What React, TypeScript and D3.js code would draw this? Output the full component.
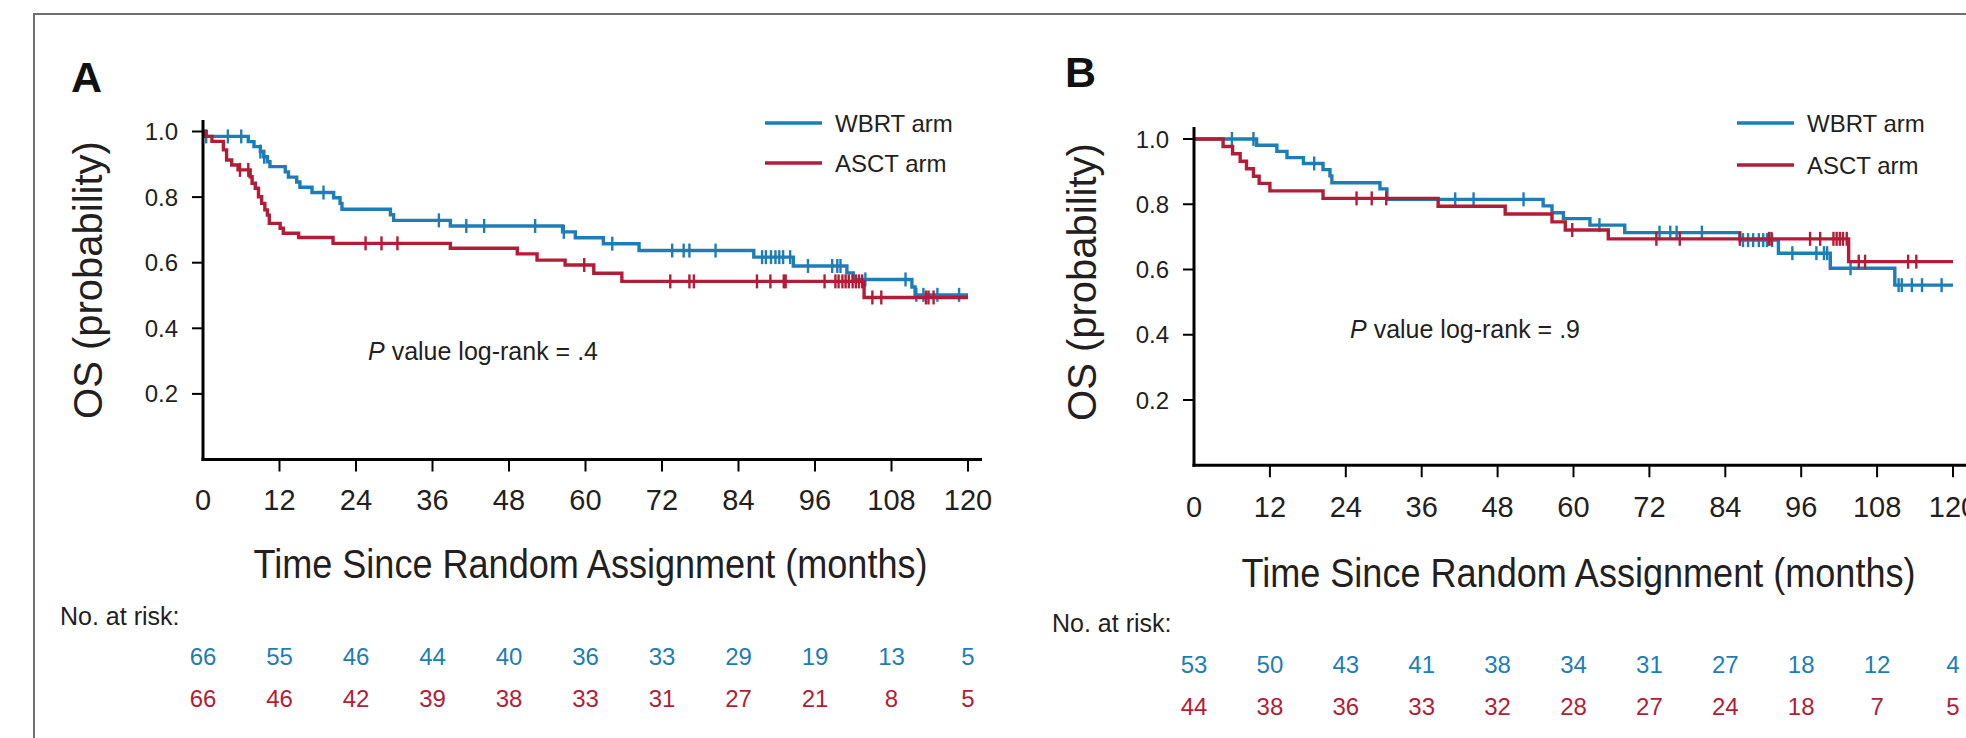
import * as d3 from 'd3'

const BLUE = '#1d7db6'
const RED = '#b31c37'
const INK = '#231f20'
const SANS = '"Liberation Sans", Arial, Helvetica, sans-serif'
const NARROW = '"Liberation Sans Narrow", "Liberation Sans", Arial, sans-serif'

// axes
const monthTicks = [0, 12, 24, 36, 48, 60, 72, 84, 96, 108, 120]
const survTicks = [0.2, 0.4, 0.6, 0.8, 1.0]
const legendLabels = ['WBRT arm', 'ASCT arm']
const followUpEnd = 120

// Panel A: step changes [month, survival] and censor times
const aWbrtSteps: [number, number][] = [
  [0, 1], [0.3, 0.985], [7.1, 0.969], [8.0, 0.954], [9.0, 0.939], [9.5, 0.923],
  [10.1, 0.908], [10.5, 0.893], [12.9, 0.877], [13.4, 0.861], [14.7, 0.846],
  [15.2, 0.83], [17.1, 0.814], [20.5, 0.798], [21.5, 0.781], [21.8, 0.763],
  [29.4, 0.746], [29.9, 0.729], [38.8, 0.712], [56.4, 0.694], [58.4, 0.676],
  [62.8, 0.658], [68.4, 0.637], [86.4, 0.617], [92.6, 0.59], [101.0, 0.569],
  [102.0, 0.549], [111.2, 0.526], [111.7, 0.502],
]
const aWbrtCensor = [
  0.5, 3.9, 6.0, 9.0, 9.6, 18.9, 37.0, 41.3, 44.1, 52.1, 56.6, 64.2, 73.6, 75.4,
  76.3, 80.4, 87.7, 88.3, 89.1, 89.8, 90.4, 91.0, 92.1, 94.9, 98.7, 99.5, 100.0,
  103.9, 110.2, 111.9, 113.0, 115.2, 118.6,
]
const aAsctSteps: [number, number][] = [
  [0, 1], [0.5, 0.985], [1.4, 0.97], [3.2, 0.944], [3.7, 0.913], [4.5, 0.898],
  [5.5, 0.883], [7.4, 0.862], [7.7, 0.842], [8.2, 0.827], [8.7, 0.801],
  [9.2, 0.781], [9.7, 0.761], [10.1, 0.745], [10.4, 0.72], [12.1, 0.705],
  [12.6, 0.69], [15.0, 0.677], [20.4, 0.659], [38.8, 0.644], [49.3, 0.627],
  [52.4, 0.608], [56.8, 0.593], [61.3, 0.568], [65.7, 0.543], [103.7, 0.494],
]
const aAsctCensor = [
  5.8, 7.1, 25.5, 28.0, 30.5, 59.8, 73.3, 76.3, 77.0, 86.9, 89.0, 91.1, 91.4,
  97.5, 99.2, 99.7, 100.3, 100.8, 101.3, 101.9, 102.4, 102.9, 103.4, 105.0,
  106.4, 113.4, 113.8, 114.6,
]
const aWbrtRisk = [66, 55, 46, 44, 40, 36, 33, 29, 19, 13, 5]
const aAsctRisk = [66, 46, 42, 39, 38, 33, 31, 27, 21, 8, 5]

// Panel B
const bWbrtSteps: [number, number][] = [
  [0, 1], [9.9, 0.981], [13.1, 0.962], [14.7, 0.943], [17.3, 0.925], [20.4, 0.906],
  [21.5, 0.887], [21.8, 0.866], [29.4, 0.847], [30.5, 0.815], [55.2, 0.795],
  [56.6, 0.774], [58.4, 0.756], [62.6, 0.736], [68.1, 0.713], [86.3, 0.69],
  [92.4, 0.65], [100.6, 0.604], [110.8, 0.552],
]
const bWbrtCensor = [
  6.0, 9.4, 19.0, 41.3, 44.2, 52.1, 64.1, 73.6, 75.3, 76.3, 80.3, 86.8, 87.6,
  88.4, 89.3, 90.0, 90.6, 91.4, 94.6, 98.4, 99.6, 100.1, 103.8, 111.4, 111.9,
  113.5, 115.1, 118.2,
]
const bAsctSteps: [number, number][] = [
  [0, 1], [4.6, 0.977], [6.1, 0.955], [7.3, 0.932], [8.3, 0.909], [9.4, 0.886],
  [10.3, 0.864], [12.0, 0.841], [20.4, 0.818], [38.6, 0.794], [49.2, 0.77],
  [56.6, 0.746], [58.7, 0.721], [65.5, 0.694], [103.5, 0.624],
]
const bAsctCensor = [
  25.7, 28.1, 30.4, 59.8, 73.1, 76.8, 86.3, 90.9, 91.3, 97.4, 99.0, 101.1, 101.6,
  102.1, 102.6, 103.2, 105.1, 106.1, 112.9, 114.2,
]
const bWbrtRisk = [53, 50, 43, 41, 38, 34, 31, 27, 18, 12, 4]
const bAsctRisk = [44, 38, 36, 33, 32, 28, 27, 24, 18, 7, 5]

type Arm = { steps: [number, number][]; censor: number[]; risk: number[]; color: string }

type Layout = {
  letter: string
  pValue: string
  xRange: [number, number]
  yRange: [number, number]
  yAxisTop: number
  xAxisRight: number
  letterPos: [number, number]
  legend: [number, number, number]
  pPos: [number, number]
  yTitle: [number, number]
  xTitleY: number
  tickLabelY: number
  riskHead: [number, number]
  riskY: [number, number]
}

function survAt(steps: [number, number][], t: number) {
  let s = steps[0][1]
  for (const [ts, v] of steps) if (ts <= t) s = v
  return s
}

function Panel({ L, arms }: { L: Layout; arms: Arm[] }) {
  const x = d3.scaleLinear().domain([0, 120]).range(L.xRange)
  const y = d3.scaleLinear().domain([0, 1]).range(L.yRange)
  const line = d3.line<[number, number]>()
    .x(d => x(d[0]))
    .y(d => y(d[1]))
    .curve(d3.curveStepAfter)
  const x0 = x(0)
  const yBase = y(0)
  const xMid = (L.xRange[0] + L.xRange[1]) / 2 + 5

  return (
    <g>
      <text x={L.letterPos[0]} y={L.letterPos[1]} fontFamily={SANS} fontWeight="bold"
        fontSize={43} fill="#111">{L.letter}</text>

      {/* curves */}
      {arms.map((a, i) => {
        const pts = [...a.steps, [followUpEnd, a.steps[a.steps.length - 1][1]] as [number, number]]
        return (
          <g key={i}>
            <path d={line(pts) ?? ''} fill="none" stroke={a.color} strokeWidth={3.4} />
            {a.censor.map((c, j) => {
              const cy = y(survAt(a.steps, c))
              return <line key={j} x1={x(c)} x2={x(c)} y1={cy - 7} y2={cy + 7}
                stroke={a.color} strokeWidth={2.4} />
            })}
          </g>
        )
      })}

      {/* axes */}
      <line x1={x0} x2={x0} y1={L.yAxisTop} y2={yBase + 1.5} stroke="#000" strokeWidth={3} />
      <line x1={x0 - 1.5} x2={L.xAxisRight} y1={yBase} y2={yBase} stroke="#000" strokeWidth={3} />
      {survTicks.map(t => (
        <g key={t}>
          <line x1={x0 - 11} x2={x0} y1={y(t)} y2={y(t)} stroke="#000" strokeWidth={2} />
          <text x={x0 - 25} y={y(t) + 8.5} textAnchor="end" fontFamily={SANS} fontSize={24}
            fill={INK}>{t.toFixed(1)}</text>
        </g>
      ))}
      {monthTicks.map(t => (
        <g key={t}>
          {t > 0 && <line x1={x(t)} x2={x(t)} y1={yBase} y2={yBase + 12} stroke="#000" strokeWidth={2} />}
          <text x={x(t)} y={L.tickLabelY} textAnchor="middle" fontFamily={NARROW} fontSize={29}
            fill={INK}>{t}</text>
        </g>
      ))}

      <text transform={`translate(${L.yTitle[0]},${L.yTitle[1]}) rotate(-90)`} textAnchor="middle"
        fontFamily={SANS} fontSize={40} fill={INK}>OS (probability)</text>
      <text x={xMid} y={L.xTitleY} textAnchor="middle" fontFamily={NARROW} fontSize={41}
        textLength={674} lengthAdjust="spacingAndGlyphs" fill={INK}>
        Time Since Random Assignment (months)
      </text>

      <text x={L.pPos[0]} y={L.pPos[1]} fontFamily={SANS} fontSize={25} fill={INK}>
        <tspan fontStyle="italic">P</tspan> value log-rank = {L.pValue}
      </text>

      {/* legend */}
      {arms.map((a, i) => {
        const ly = L.legend[1] + i * L.legend[2]
        return (
          <g key={i}>
            <line x1={L.legend[0]} x2={L.legend[0] + 57} y1={ly} y2={ly} stroke={a.color} strokeWidth={3.5} />
            <text x={L.legend[0] + 70} y={ly + 8.5} fontFamily={SANS} fontSize={24} fill={INK}>
              {legendLabels[i]}
            </text>
          </g>
        )
      })}

      {/* number at risk */}
      <text x={L.riskHead[0]} y={L.riskHead[1]} fontFamily={SANS} fontSize={25} fill={INK}>No. at risk:</text>
      {arms.map((a, i) => (
        <g key={i}>
          {a.risk.map((n, j) => (
            <text key={j} x={x(monthTicks[j])} y={L.riskY[i]} textAnchor="middle" fontFamily={SANS}
              fontSize={24} fill={a.color}>{n}</text>
          ))}
        </g>
      ))}
    </g>
  )
}

const layoutA: Layout = {
  letter: 'A', pValue: '.4',
  xRange: [203, 968], yRange: [459.5, 131.5], yAxisTop: 120, xAxisRight: 982,
  letterPos: [71, 92], legend: [765, 123, 40], pPos: [368, 360], yTitle: [102, 280],
  xTitleY: 578, tickLabelY: 510, riskHead: [60, 625], riskY: [665, 707],
}
const layoutB: Layout = {
  letter: 'B', pValue: '.9',
  xRange: [1194, 1953], yRange: [465.25, 139], yAxisTop: 127, xAxisRight: 1980,
  letterPos: [1065, 87], legend: [1737, 123, 42], pPos: [1350, 338], yTitle: [1096, 282],
  xTitleY: 587, tickLabelY: 517, riskHead: [1052, 632], riskY: [673, 715],
}

export default function App() {
  const armsA: Arm[] = [
    { steps: aWbrtSteps, censor: aWbrtCensor, risk: aWbrtRisk, color: BLUE },
    { steps: aAsctSteps, censor: aAsctCensor, risk: aAsctRisk, color: RED },
  ]
  const armsB: Arm[] = [
    { steps: bWbrtSteps, censor: bWbrtCensor, risk: bWbrtRisk, color: BLUE },
    { steps: bAsctSteps, censor: bAsctCensor, risk: bAsctRisk, color: RED },
  ]
  return (
    <svg width={1966} height={738} style={{ position: 'absolute', left: 0, top: 0, background: '#fff' }}>
      <rect width={1966} height={738} fill="#fff" />
      <path d="M34,738 V14 H1966" fill="none" stroke="#6f6f6f" strokeWidth={2} />
      <Panel L={layoutA} arms={armsA} />
      <Panel L={layoutB} arms={armsB} />
    </svg>
  )
}
